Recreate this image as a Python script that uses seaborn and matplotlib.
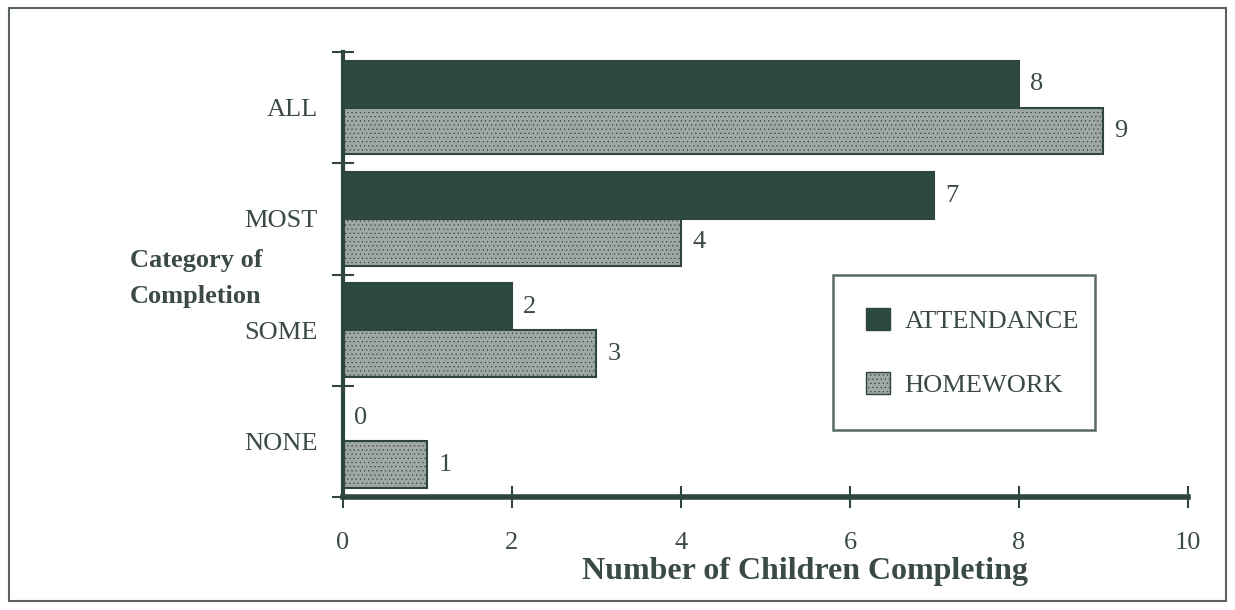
import matplotlib
matplotlib.use("Agg")
import matplotlib.pyplot as plt
from matplotlib.patches import Rectangle, Patch
import seaborn as sns
import pandas as pd

categories = ["ALL", "MOST", "SOME", "NONE"]
attendance = [8, 7, 2, 0]
homework = [9, 4, 3, 1]
series_names = ["ATTENDANCE", "HOMEWORK"]
x_ticks = [0, 2, 4, 6, 8, 10]

df = pd.DataFrame({
    "Category": categories * 2,
    "Count": attendance + homework,
    "Series": [series_names[0]] * len(categories) + [series_names[1]] * len(categories),
})

sns.set_theme(style="white")
plt.rcParams["font.family"] = ["Liberation Serif", "DejaVu Serif"]
plt.rcParams["hatch.color"] = "#8c958f"
plt.rcParams["hatch.linewidth"] = 0.4

text_col = "#3b4a47"
att_col = "#2d4a3e"
hw_col = "#a0a8a4"
edge_col = "#2f4540"
fs = 19

fig = plt.figure(figsize=(12.35, 6.1), dpi=100)
ax = fig.add_axes([0.2777, 0.1852, 0.6842, 0.7295])

sns.barplot(data=df, y="Category", x="Count", hue="Series", order=categories,
            hue_order=series_names, palette=[att_col, hw_col], orient="h",
            width=0.84, ax=ax, legend=False, saturation=1)

for i, cont in enumerate(ax.containers):
    for bar in cont:
        bar.set_edgecolor(edge_col)
        bar.set_linewidth(1.5)
        if i == 1:
            bar.set_hatch("....")
    ax.bar_label(cont, padding=8, fontsize=fs, color=text_col)

ax.set_xlim(0, 10)
ax.set_ylim(3.5, -0.5)
ax.set_xticks(x_ticks)
ax.set_xticklabels([str(t) for t in x_ticks], fontsize=fs, color=text_col)
ax.tick_params(axis="x", bottom=True, direction="inout", length=16, width=1.5,
               color=edge_col, pad=17)
ax.set_yticks([-0.5, 0.5, 1.5, 2.5, 3.5], minor=True)
ax.tick_params(axis="y", which="minor", left=True, direction="inout", length=16,
               width=1.5, color=edge_col)
ax.tick_params(axis="y", which="major", left=False, length=0, pad=18)
ax.set_yticklabels(categories, fontsize=fs, color=text_col)

for s in ["top", "right"]:
    ax.spines[s].set_visible(False)
ax.spines["left"].set_linewidth(3)
ax.spines["left"].set_color(edge_col)
ax.spines["bottom"].set_linewidth(4)
ax.spines["bottom"].set_color(edge_col)

ax.set_ylabel("")
ax.set_xlabel("Number of Children Completing", fontsize=23, fontweight="bold",
              color=text_col)
ax.xaxis.set_label_coords(0.547, -0.135)
fig.text(0.105, 0.543, "Category of\nCompletion", fontsize=fs, fontweight="bold",
         color=text_col, ha="left", va="center", linespacing=1.7)

handles = [Patch(facecolor=att_col, edgecolor=edge_col),
           Patch(facecolor=hw_col, edgecolor=edge_col, hatch="....")]
leg = ax.legend(handles, series_names, loc="lower left",
                bbox_to_anchor=(0.58, 0.15, 0.31, 0.345), mode="expand",
                fontsize=fs, frameon=True, fancybox=False,
                handlelength=0.9, handleheight=0.9, labelspacing=1.5, borderpad=1.25,
                handletextpad=0.55, borderaxespad=0)
leg.get_frame().set_edgecolor(edge_col)
leg.get_frame().set_linewidth(1.8)
for t in leg.get_texts():
    t.set_color(text_col)

fig.patches.append(Rectangle((0.007, 0.015), 0.986, 0.972, transform=fig.transFigure,
                             fill=False, edgecolor="#5a6360", linewidth=1.5))

fig.savefig("out.png", dpi=100)
